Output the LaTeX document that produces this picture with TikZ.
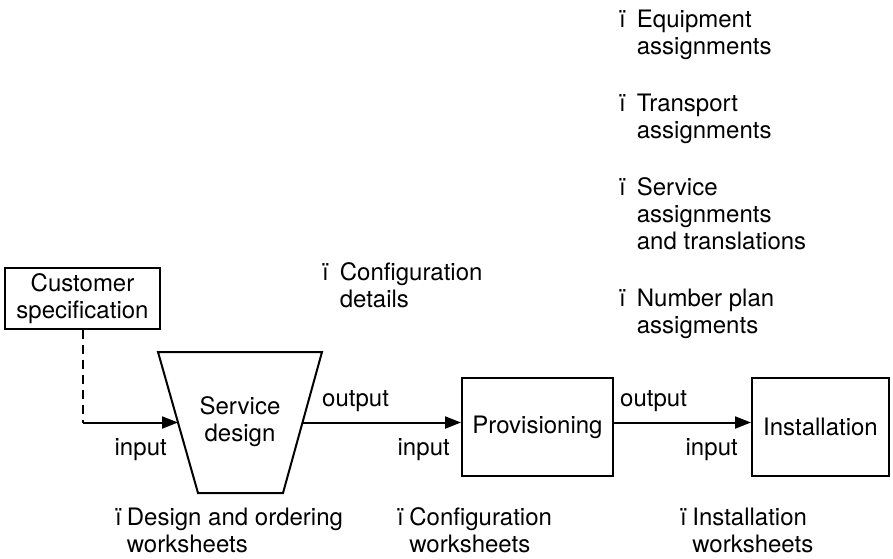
\documentclass[tikz,border=0pt]{standalone}
\usepackage{fontspec}
\setmainfont{TeX Gyre Heros}
\usetikzlibrary{arrows.meta,calc}
% lines of one bullet item, first line on the node's baseline
\newcommand\stacklines[1]{\begin{tabular}[t]{@{}l@{}}#1\end{tabular}}
\begin{document}
\begin{tikzpicture}[x=1pt,y=-1pt,
  every node/.style={font=\fontsize{24}{27}\selectfont, inner sep=0pt},
  box/.style={draw, line width=2pt, align=center},
  flow/.style={line width=2pt, -{Triangle[length=16pt,width=12pt]}},
  lbl/.style={anchor=base west},
  inlbl/.style={anchor=base east},
]
\useasboundingbox (0,0) rectangle (893,558);

% process boxes
\node[box, minimum width=155pt, minimum height=61pt] (cust) at (82.5,298.5) {Customer\\specification};
\node[box, minimum width=151pt, minimum height=98pt] (prov) at (537.5,427) {Provisioning};
\node[box, minimum width=137pt, minimum height=98pt] (inst) at (820.5,427) {Installation};

% service design funnel
\coordinate (tl) at (158,352);
\coordinate (tr) at (322,352);
\coordinate (br) at (283,493);
\coordinate (bl) at (198,493);
\draw[line width=2pt, line join=miter] (tl) -- (tr) -- (br) -- (bl) -- cycle;
\node[align=center] (sd) at (240,422) {Service\\design};
\coordinate (sdin) at ($(tl)!0.5!(bl)$);
\coordinate (sdout) at ($(tr)!0.5!(br)$);

% connectors
\coordinate (tap) at (cust.south |- sdin);
\draw[line width=2pt, dash pattern=on 9pt off 6pt] (cust.south) -- (tap);
\draw[flow] (tap) -- (sdin);
\draw[flow] (sdout) -- (sdout -| prov.west);
\draw[flow] (sdout -| prov.east) -- (sdout -| inst.west);

% connector labels
\node[inlbl] (in1) at (167,455) {input};
\node[lbl] (out1) at (322,406) {output};
\node[inlbl] (in2) at (450,455) {input};
\node[lbl] (out2) at (620,406) {output};
\node[inlbl] (in3) at (738,455) {input};

% deliverables of provisioning
\node[lbl] (eq) at (619,27) {ï\hspace{11pt}\stacklines{Equipment\\assignments}};
\node[lbl] (tp) at (619,111) {ï\hspace{11pt}\stacklines{Transport\\assignments}};
\node[lbl] (sv) at (619,195) {ï\hspace{11pt}\stacklines{Service\\assignments\\and translations}};
\node[lbl] (np) at (619,306) {ï\hspace{11pt}\stacklines{Number plan\\assigments}};

% deliverables of service design
\node[lbl] (cd) at (322,280) {ï\hspace{11pt}\stacklines{Configuration\\details}};

% worksheets
\node[lbl] (dw) at (115,525) {ï\hspace{5pt}\stacklines{Design and ordering\\worksheets}};
\node[lbl] (cw) at (397,525) {ï\hspace{5.5pt}\stacklines{Configuration\\worksheets}};
\node[lbl] (iw) at (680,525) {ï\hspace{5.5pt}\stacklines{Installation\\worksheets}};
\end{tikzpicture}
\end{document}
